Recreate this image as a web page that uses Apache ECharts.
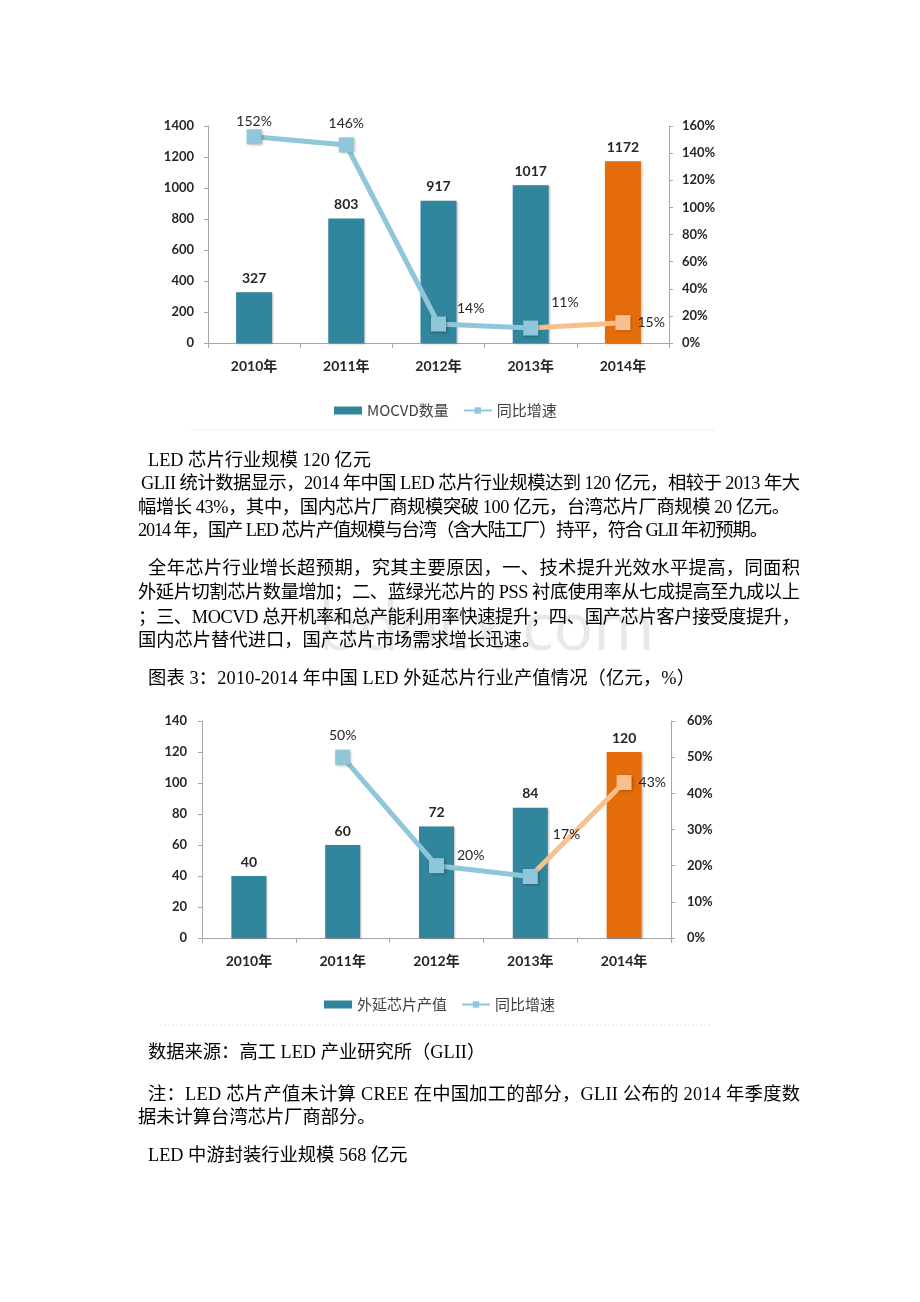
<!DOCTYPE html>
<html>
<head>
<meta charset="utf-8">
<script src="https://cdn.jsdelivr.net/npm/echarts@6/dist/echarts.min.js"></script>
<style>
  html, body { margin:0; padding:0; background:#fff; }
  #page { position:relative; width:920px; height:1302px; overflow:hidden; }
  #chart { position:absolute; left:0; top:0; width:920px; height:1302px; }
  .t { position:absolute; white-space:nowrap; font-family:"Liberation Serif","Noto Sans CJK SC",serif; font-size:18.3px; line-height:24px; color:#000; }
  #wm { position:absolute; left:318px; top:584px; font-family:"Open Sans",sans-serif; font-size:66px; line-height:80px; color:#000; opacity:0.09; white-space:nowrap; }
</style>
</head>
<body>
<div id="page">
  <div id="chart"></div>
  <div id="wm">bdocx.com</div>
  <div class="t" style="left:148px;top:448px;">LED 芯片行业规模 120 亿元</div>
  <div class="t" data-r="800" style="left:141px;top:471px;">GLII 统计数据显示，2014 年中国 LED 芯片行业规模达到 120 亿元，相较于 2013 年大</div>
  <div class="t" data-r="790" style="left:138px;top:495px;">幅增长 43%，其中，国内芯片厂商规模突破 100 亿元，台湾芯片厂商规模 20 亿元。</div>
  <div class="t" data-r="768" style="left:138px;top:518px;">2014 年，国产 LED 芯片产值规模与台湾（含大陆工厂）持平，符合 GLII 年初预期。</div>
  <div class="t" data-r="800" style="left:148px;top:556px;">全年芯片行业增长超预期，究其主要原因，一、技术提升光效水平提高，同面积</div>
  <div class="t" data-r="800" style="left:138px;top:580px;">外延片切割芯片数量增加；二、蓝绿光芯片的 PSS 衬底使用率从七成提高至九成以上</div>
  <div class="t" data-r="800" style="left:138px;top:605px;">；三、MOCVD 总开机率和总产能利用率快速提升；四、国产芯片客户接受度提升，</div>
  <div class="t" style="left:138px;top:628px;">国内芯片替代进口，国产芯片市场需求增长迅速。</div>
  <div class="t" data-r="695" style="left:148px;top:666px;">图表 3：2010-2014 年中国 LED 外延芯片行业产值情况（亿元，%）</div>
  <div class="t" style="left:148px;top:1040px;">数据来源：高工 LED 产业研究所（GLII）</div>
  <div class="t" data-r="800" style="left:148px;top:1082px;">注：LED 芯片产值未计算 CREE 在中国加工的部分，GLII 公布的 2014 年季度数</div>
  <div class="t" style="left:138px;top:1105px;">据未计算台湾芯片厂商部分。</div>
  <div class="t" style="left:148px;top:1143px;">LED 中游封装行业规模 568 亿元</div>
</div>
<script>
// ---- data ----
const categories = ['2010年', '2011年', '2012年', '2013年', '2014年'];
const mocvdCount = [327, 803, 917, 1017, 1172];
const mocvdGrowth = [152, 146, 14, 11, 15];
const chipValue = [40, 60, 72, 84, 120];
const chipGrowth = [null, 50, 20, 17, 43];
const seriesNames1 = ['MOCVD数量', '同比增速'];
const seriesNames2 = ['外延芯片产值', '同比增速'];

// ---- text line fitting (justify to measured right edge) ----
function fitLines() {
  document.querySelectorAll('.t[data-r]').forEach(el => {
    el.style.letterSpacing = '0px';
    const left = parseFloat(el.style.left);
    const nat = el.getBoundingClientRect().width;
    const n = Array.from(el.textContent).length;
    const target = parseFloat(el.dataset.r) - left;
    el.style.letterSpacing = ((target - nat) / (n - 1)) + 'px';
  });
}
fitLines();
if (document.fonts && document.fonts.ready) document.fonts.ready.then(fitLines);

// ---- styles ----
const TEAL = '#31859C', ORANGE = '#E46C0A', LBLUE = '#8FC6DA', LORANGE = '#F9BF8F';
const barColors = [TEAL, TEAL, TEAL, TEAL, ORANGE];
const AX = '#A6A6A6';
const FONT = 'Lato, "Noto Sans CJK SC", sans-serif';
const LAB = { color: '#262626', fontWeight: 'bold', fontSize: 13, fontFamily: FONT };
const growthLbl1 = [
  { position: 'top', offset: [0, 4] },
  { position: 'top', offset: [0, -2] },
  { position: 'right', offset: [6, -16] },
  { position: 'right', offset: [8, -26] },
  { position: 'right', offset: [2, 0] }
];
const growthLbl2 = [
  null,
  { position: 'top', offset: [0, -2] },
  { position: 'right', offset: [8, -10] },
  { position: 'right', offset: [10, -42] },
  { position: 'right', offset: [2, 0] }
];

function barData(vals) {
  return vals.map((v, i) => ({ value: v, itemStyle: { color: barColors[i] } }));
}
function lineData(vals, lbls, from, to, hideIdx) {
  return vals.map((v, i) => {
    if (i < from || i > to || v == null) return null;
    const o = { value: v };
    if (i === hideIdx) { o.symbol = 'none'; o.label = { show: false }; }
    else if (lbls[i]) o.label = { show: true, position: lbls[i].position, offset: lbls[i].offset };
    return o;
  });
}
function yAxis(grid, max, interval, pos, pct, margin) {
  return {
    gridIndex: grid, type: 'value', min: 0, max: max, interval: interval, position: pos,
    axisLine: { show: true, lineStyle: { color: AX, width: 1 } },
    axisTick: { show: true, length: 4, lineStyle: { color: AX } },
    splitLine: { show: false },
    axisLabel: Object.assign({ margin: margin, formatter: v => pct ? v + '%' : String(v) }, LAB)
  };
}
function xAxis(grid) {
  return {
    gridIndex: grid, type: 'category', data: categories,
    axisLine: { lineStyle: { color: AX } },
    axisTick: { show: true, length: 5, lineStyle: { color: AX } },
    axisLabel: Object.assign({ margin: 16 }, LAB, { fontSize: 14 })
  };
}
const lineLabel = { show: true, formatter: '{c}%', color: '#262626', fontSize: 14, fontFamily: FONT };
const markerStyle = (c) => ({ color: c, shadowBlur: 3, shadowColor: 'rgba(0,0,0,0.35)', shadowOffsetX: 1, shadowOffsetY: 1 });

function chartSeries(gridIdx, names, barVals, growthVals, lbls, barW) {
  const xi = gridIdx, yl = gridIdx * 2, yr = gridIdx * 2 + 1;
  return [
    {
      name: names[0], type: 'bar', xAxisIndex: xi, yAxisIndex: yl, barWidth: barW,
      data: barData(barVals),
      itemStyle: { color: TEAL, shadowBlur: 2, shadowColor: 'rgba(0,0,0,0.25)', shadowOffsetX: 1, shadowOffsetY: 1 },
      label: { show: true, position: 'top', distance: 7, color: '#262626', fontWeight: 'bold', fontSize: 14, fontFamily: FONT }
    },
    {
      name: names[1], type: 'line', xAxisIndex: xi, yAxisIndex: yr,
      data: lineData(growthVals, lbls, 0, 3, -1),
      symbol: 'rect', symbolSize: 15, connectNulls: false,
      lineStyle: { color: LBLUE, width: 5 },
      itemStyle: markerStyle(LBLUE),
      label: lineLabel, z: 5
    },
    {
      name: names[1] + ' 2014', type: 'line', xAxisIndex: xi, yAxisIndex: yr,
      data: lineData(growthVals, lbls, 3, 4, 3),
      symbol: 'rect', symbolSize: 15,
      lineStyle: { color: LORANGE, width: 5 },
      itemStyle: markerStyle(LORANGE),
      label: lineLabel, z: 4
    }
  ];
}

const legendBase = {
  itemWidth: 28, itemHeight: 8, itemGap: 14,
  textStyle: { fontSize: 15, color: '#404040', fontFamily: '"Noto Sans CJK SC", sans-serif' }
};

const chart = echarts.init(document.getElementById('chart'), null, { renderer: 'canvas' });
chart.setOption({
  animation: false,
  backgroundColor: 'transparent',
  grid: [
    { left: 208, top: 126, width: 461, height: 217 },
    { left: 202, top: 721, width: 469, height: 217 }
  ],
  graphic: [
    { type: 'line', shape: { x1: 190, y1: 430, x2: 715, y2: 430 }, style: { stroke: '#EEEEEE', lineWidth: 1 }, silent: true },
    { type: 'line', shape: { x1: 160, y1: 1025, x2: 712, y2: 1025 }, style: { stroke: '#D6ECF2', lineWidth: 1, lineDash: [2, 2] }, silent: true }
  ],
  xAxis: [xAxis(0), xAxis(1)],
  yAxis: [
    yAxis(0, 1400, 200, 'left', false, 14),
    yAxis(0, 160, 20, 'right', true, 13),
    yAxis(1, 140, 20, 'left', false, 15),
    yAxis(1, 60, 10, 'right', true, 16)
  ],
  legend: [
    Object.assign({ left: 329, top: 398, data: [{ name: seriesNames1[0], icon: 'rect' }, seriesNames1[1]] }, legendBase),
    Object.assign({ left: 319, top: 992, data: [{ name: seriesNames2[0], icon: 'rect' }, seriesNames2[1]] }, legendBase)
  ],
  series: [].concat(
    chartSeries(0, seriesNames1, mocvdCount, mocvdGrowth, growthLbl1, 36),
    chartSeries(1, seriesNames2, chipValue, chipGrowth, growthLbl2, 35)
  )
});
</script>
</body>
</html>
